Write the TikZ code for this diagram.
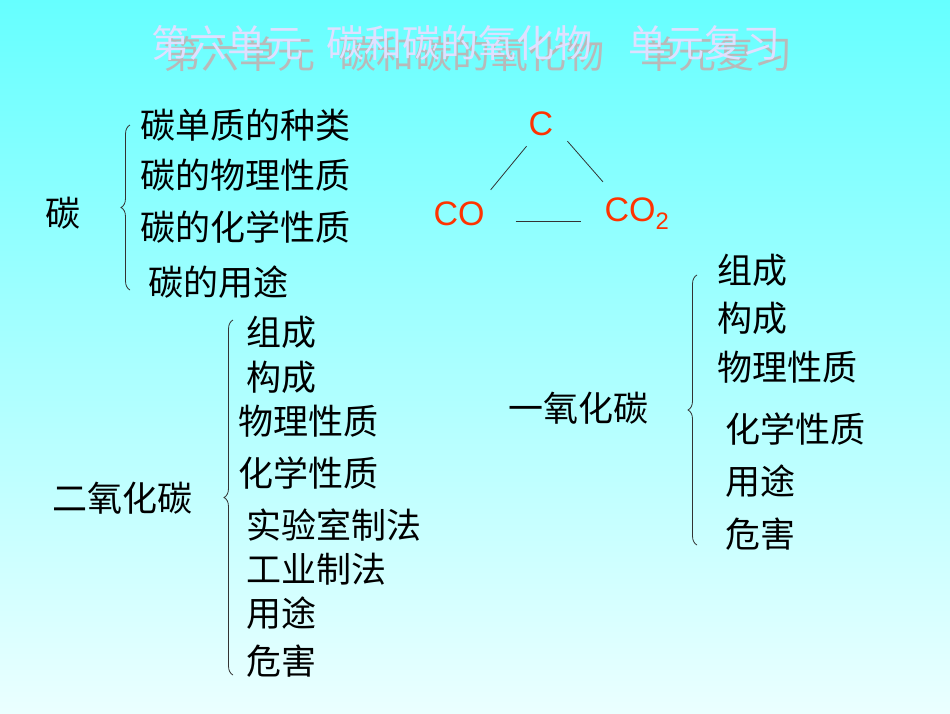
\documentclass[tikz,border=0pt]{standalone}
\usepackage{fontspec}
\newfontfamily\cjk{Noto Sans CJK SC}
\setmainfont{Liberation Sans}
\usetikzlibrary{decorations.pathreplacing,calc}
\definecolor{orng}{HTML}{FF3300}
\tikzset{
 t/.style={anchor=west,inner sep=0pt,font=\cjk\fontsize{35}{35}\selectfont},
 ch/.style={inner sep=0pt,text=orng,font=\fontsize{34}{34}\selectfont},
 br/.style={decorate,decoration={brace,amplitude=9pt},line width=0.8pt,black!80},
 ln/.style={line width=0.8pt,black!80},
 ttl/.style={inner sep=0pt,font=\cjk\fontsize{38}{38}\selectfont}
}
\begin{document}
\begin{tikzpicture}[x=1pt,y=-1pt]
\shade[top color=cyan!60!white, bottom color=cyan!8!white] (0,0) rectangle (950,713);
\useasboundingbox (0,0) rectangle (950,713);
\node[ttl,text=gray!55] (tsh) at (478,54) {第六单元\hspace{24pt}碳和碳的氧化物\hspace{36pt}单元复习};
\node[ttl,text=blue!12!white] (ttl) at (466,43) {第六单元\hspace{24pt}碳和碳的氧化物\hspace{36pt}单元复习};
% carbon
\node[t] (c) at (45,213) {碳};
\node[t] (c1) at (140,125) {碳单质的种类};
\node[t] (c2) at (140,175) {碳的物理性质};
\node[t] (c3) at (140,227) {碳的化学性质};
\node[t] (c4) at (148,282) {碳的用途};
\draw[br] (130,290) -- (130,125);
% triangle
\node[ch] (C) at (541,124) {C};
\node[ch] (CO) at (459,214) {CO};
\node[ch] (CO2) at (637,214) {CO\textsubscript{2}};
\draw[ln] ($(CO.north east)+(6,-12)$) -- ($(C.south west)+(-2,10)$);
\draw[ln] ($(C.south east)+(14,5)$) -- ($(CO2.north)+(-34,-16)$);
\draw[ln] ($(CO.east)+(31,7)$) -- ($(CO2.west)+(-23,7)$);
% CO
\node[t] (m) at (508,408) {一氧化碳};
\node[t] (m1) at (717,270) {组成};
\node[t] (m2) at (717,318) {构成};
\node[t] (m3) at (717,367) {物理性质};
\node[t] (m4) at (725,429) {化学性质};
\node[t] (m5) at (725,481) {用途};
\node[t] (m6) at (725,534) {危害};
\draw[br] (697,545) -- (697,275);
% CO2
\node[t] (d) at (52,498) {二氧化碳};
\node[t] (d1) at (246,332) {组成};
\node[t] (d2) at (246,377) {构成};
\node[t] (d3) at (238,421) {物理性质};
\node[t] (d4) at (238,473) {化学性质};
\node[t] (d5) at (246,525) {实验室制法};
\node[t] (d6) at (246,569) {工业制法};
\node[t] (d7) at (246,613) {用途};
\node[t] (d8) at (246,661) {危害};
\draw[br] (233,675) -- (233,320);
\end{tikzpicture}
\end{document}
